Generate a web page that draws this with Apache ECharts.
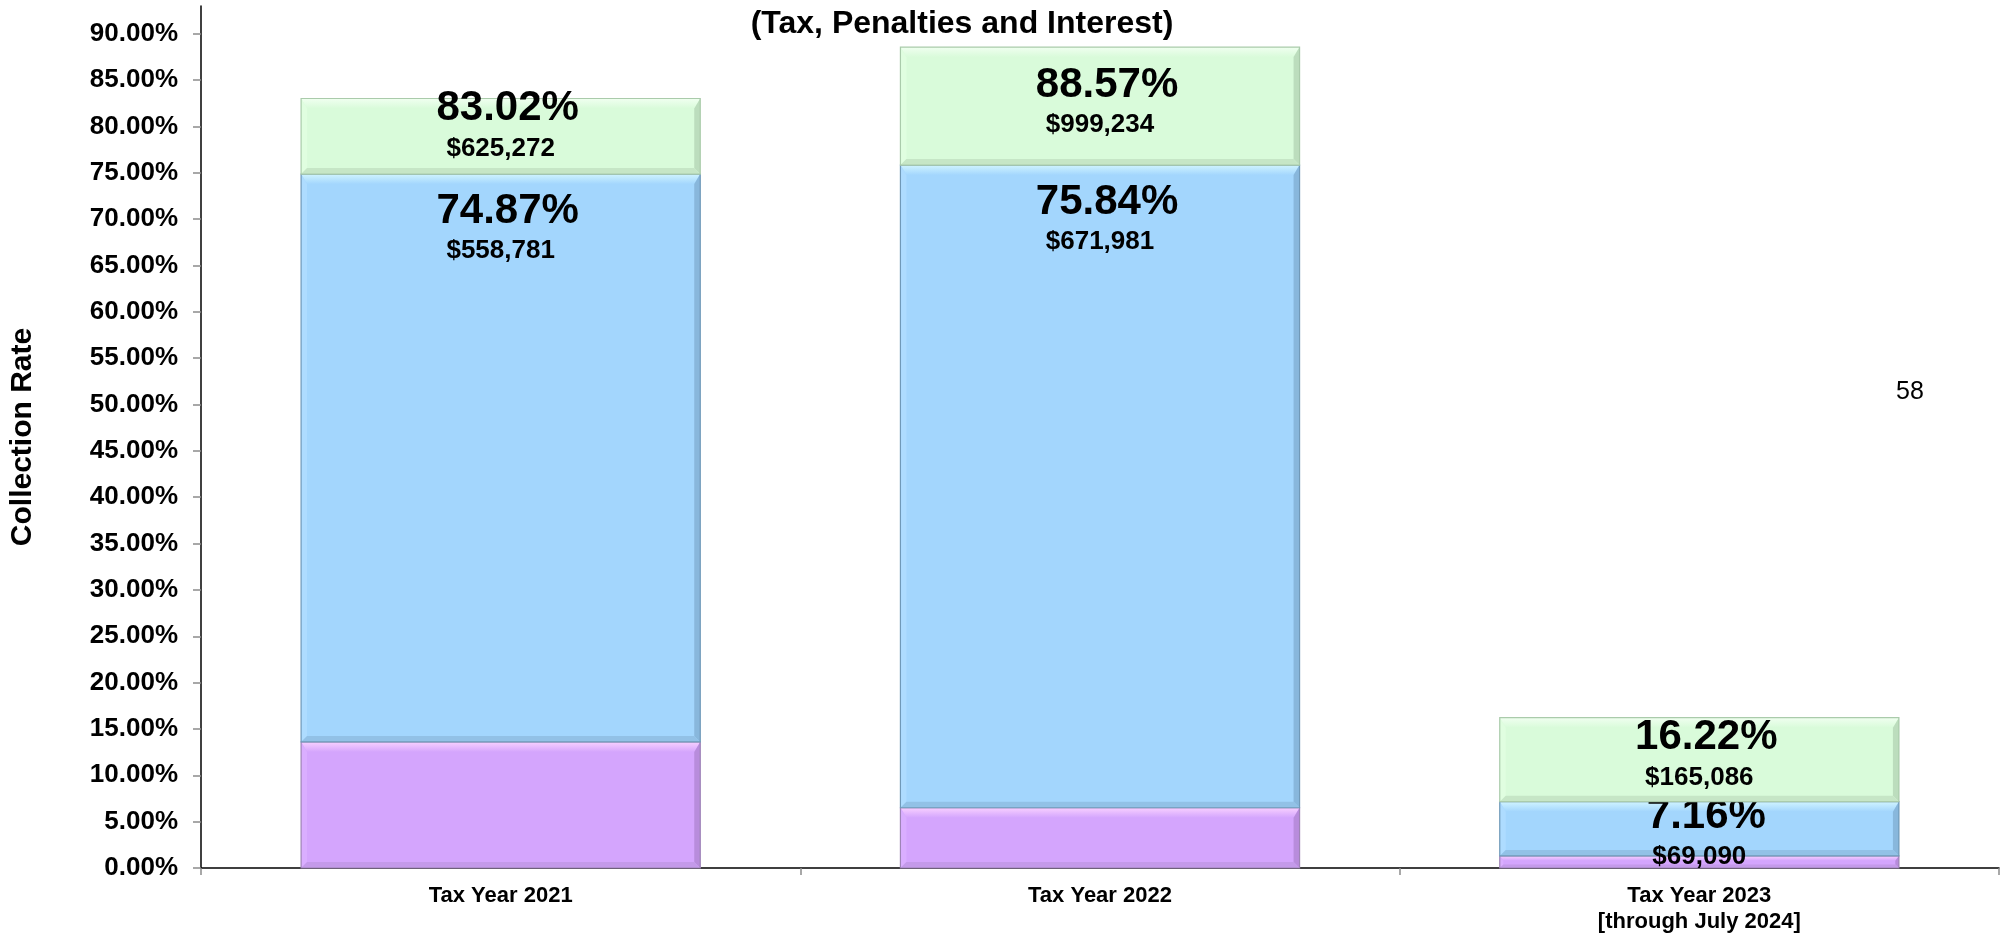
<!DOCTYPE html>
<html>
<head>
<meta charset="utf-8">
<script src="https://cdn.jsdelivr.net/npm/echarts@6/dist/echarts.min.js"></script>
<style>
html,body{margin:0;padding:0;background:#ffffff;}
#chart{width:2011px;height:933px;}
</style>
</head>
<body>
<div id="chart"></div>
<script>
// ---------------- data ----------------
const categories = ['Tax Year 2021', 'Tax Year 2022', 'Tax Year 2023\n[through July 2024]'];
const baseTop = [13.6, 6.5, 1.3];            // purple segment top (%)
const midTop = [74.87, 75.84, 7.16];         // blue segment top, cumulative (%)
const upperTop = [83.02, 88.57, 16.22];      // green segment top, cumulative (%)
const midDollars = [558781, 671981, 69090];
const upperDollars = [625272, 999234, 165086];
const yTicks = [0, 5, 10, 15, 20, 25, 30, 35, 40, 45, 50, 55, 60, 65, 70, 75, 80, 85, 90];
const titleText = '(Tax, Penalties and Interest)';
const yAxisTitle = 'Collection Rate';
const sideNote = '58';

// ---------------- styles ----------------
const FONT = "'Liberation Sans', Arial, Helvetica, sans-serif";
const BAR_RATIO = 0.666;
const palettes = [
  { base: '#D4A5FD', hi: '#F8D0FF', left: '#DAAEFF', right: '#B88CDC', bottom: '#C49AEA', border: '#9E84B6' },
  { base: '#A3D6FD', hi: '#D0F4FF', left: '#AEDCFF', right: '#88B7DC', bottom: '#92C1E6', border: '#7099B8' },
  { base: '#D9FBDA', hi: '#F0FFF0', left: '#E0FEE0', right: '#BCDDBD', bottom: '#C6E6C6', border: '#AACBAB' }
];
const labelDy = [null, [37, 37, 15], [10, 38, 20]];
const labelGap = 40;

const seriesData = [
  categories.map((c, i) => [i, 0, baseTop[i]]),
  categories.map((c, i) => [i, baseTop[i], midTop[i]]),
  categories.map((c, i) => [i, midTop[i], upperTop[i]])
];
const pctLabels = [null, midTop, upperTop];
const dollarLabels = [null, midDollars, upperDollars];

function fmtDollar(n) { return '$' + n.toLocaleString('en-US'); }

function renderItem(params, api) {
  const s = params.seriesIndex;
  const idx = params.dataIndex;
  const i = api.value(0), lo = api.value(1), hi = api.value(2);
  const p0 = api.coord([i, lo]);
  const p1 = api.coord([i, hi]);
  const w = api.size([1, 0])[0] * BAR_RATIO;
  const x = p0[0] - w / 2;
  const y = p1[1];
  const h = p0[1] - p1[1];
  const pal = palettes[s];
  const bt = Math.min(10, h * 0.4);
  const bb = Math.min(6, h * 0.3);
  const bs = Math.min(6, h * 0.3);
  const children = [
    { type: 'rect', shape: { x: x, y: y, width: w, height: h }, style: { fill: pal.base } },
    { type: 'polygon', shape: { points: [[x, y], [x + w, y], [x + w - bs, y + bt], [x + bs, y + bt]] },
      style: { fill: { type: 'linear', x: 0, y: 0, x2: 0, y2: 1, colorStops: [{ offset: 0, color: pal.hi }, { offset: 1, color: pal.base }] } } },
    { type: 'polygon', shape: { points: [[x, y], [x + bs, y + bt], [x + bs, y + h - bb], [x, y + h]] }, style: { fill: pal.left } },
    { type: 'polygon', shape: { points: [[x + w, y], [x + w, y + h], [x + w - bs, y + h - bb], [x + w - bs, y + bt]] }, style: { fill: pal.right } },
    { type: 'polygon', shape: { points: [[x, y + h], [x + w, y + h], [x + w - bs, y + h - bb], [x + bs, y + h - bb]] }, style: { fill: pal.bottom } },
    { type: 'rect', shape: { x: x, y: y, width: w, height: h }, style: { fill: null, stroke: pal.border, lineWidth: 1.2 } }
  ];
  if (pctLabels[s]) {
    const cx = p0[0];
    const ty = y + labelDy[s][idx];
    children.push({ type: 'text', x: cx + 7, y: ty, z2: 20,
      style: { text: pctLabels[s][idx].toFixed(2) + '%', font: 'bold 42px ' + FONT, fill: '#000', align: 'center', verticalAlign: 'middle' } });
    children.push({ type: 'text', x: cx, y: ty + labelGap, z2: 20,
      style: { text: fmtDollar(dollarLabels[s][idx]), font: 'bold 26px ' + FONT, fill: '#000', align: 'center', verticalAlign: 'middle' } });
  }
  return { type: 'group', children: children };
}

const chart = echarts.init(document.getElementById('chart'), null, { renderer: 'canvas' });
chart.setOption({
  backgroundColor: '#ffffff',
  animation: false,
  grid: { left: 201, right: 12, top: 6, bottom: 65, containLabel: false, outerBoundsMode: 'none' },
  xAxis: {
    type: 'category',
    data: categories,
    axisLine: { show: true, lineStyle: { color: '#000', width: 1.5 } },
    axisTick: { show: true, length: 7, lineStyle: { color: '#8c8c8c', width: 1.5 } },
    axisLabel: { color: '#000', fontSize: 22, fontWeight: 'bold', fontFamily: FONT, margin: 15, lineHeight: 26, interval: 0 },
    splitLine: { show: false }
  },
  yAxis: {
    type: 'value',
    min: 0,
    max: 93,
    interval: 5,
    name: yAxisTitle,
    nameLocation: 'middle',
    nameRotate: 90,
    nameGap: 163,
    nameTextStyle: { color: '#000', fontSize: 30, fontWeight: 'bold', fontFamily: FONT },
    axisLine: { show: true, lineStyle: { color: '#000', width: 1.5 } },
    axisTick: { show: true, length: 8, customValues: yTicks, lineStyle: { color: '#8c8c8c', width: 1.5 } },
    axisLabel: { color: '#000', fontSize: 26, fontWeight: 'bold', fontFamily: FONT, margin: 23, customValues: yTicks,
      formatter: function (v) { return v.toFixed(2) + '%'; } },
    splitLine: { show: false }
  },
  graphic: [
    { type: 'text', x: 962, y: 24, style: { text: titleText, font: 'bold 32px ' + FONT, fill: '#000', align: 'center', verticalAlign: 'middle' } },
    { type: 'text', x: 1910, y: 392, style: { text: sideNote, font: '25px ' + FONT, fill: '#000', align: 'center', verticalAlign: 'middle' } }
  ],
  series: seriesData.map((d, s) => ({
    type: 'custom',
    renderItem: renderItem,
    encode: { x: 0, y: [1, 2] },
    data: d,
    z: 2 + s
  }))
});
</script>
</body>
</html>
